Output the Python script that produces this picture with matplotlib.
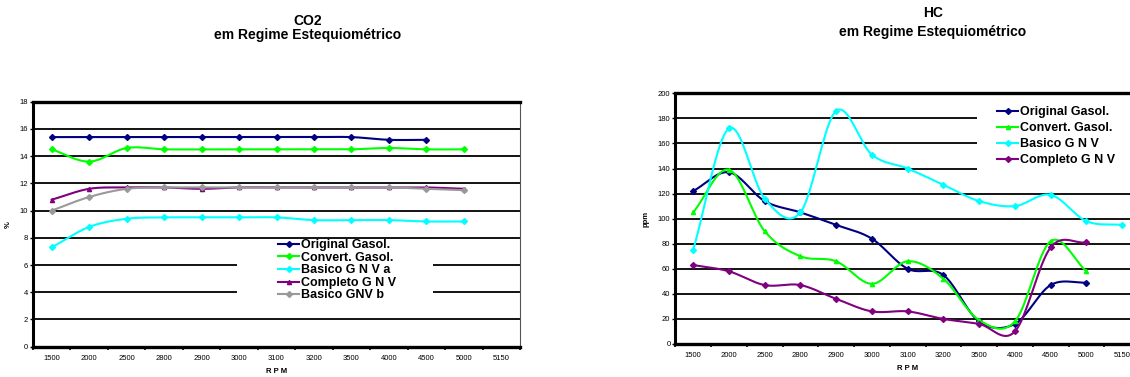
import numpy as np
import matplotlib
matplotlib.use("Agg")
import matplotlib.pyplot as plt
from matplotlib.patches import Rectangle

plt.rcParams['font.family'] = ['Liberation Sans', 'DejaVu Sans']

# Dados
rpm = ["1500", "2000", "2500", "2800", "2900", "3000", "3100", "3200",
       "3500", "4000", "4500", "5000", "5150"]

# CO2 (%)
co2_original = [15.4, 15.4, 15.4, 15.4, 15.4, 15.4, 15.4, 15.4, 15.4, 15.2, 15.2]
co2_convert = [14.5, 13.6, 14.6, 14.5, 14.5, 14.5, 14.5, 14.5, 14.5, 14.6, 14.5, 14.5]
co2_basico_a = [7.3, 8.8, 9.4, 9.5, 9.5, 9.5, 9.5, 9.3, 9.3, 9.3, 9.2, 9.2]
co2_completo = [10.8, 11.6, 11.7, 11.7, 11.6, 11.7, 11.7, 11.7, 11.7, 11.7, 11.7, 11.6]
co2_basico_b = [10.0, 11.0, 11.6, 11.7, 11.7, 11.7, 11.7, 11.7, 11.7, 11.7, 11.6, 11.5]

# HC (ppm)
hc_original = [122, 137, 114, 105, 95, 84, 60, 55, 18, 16, 47, 49]
hc_convert = [105, 139, 90, 70, 66, 48, 66, 52, 19, 18, 82, 58]
hc_basico = [75, 172, 116, 105, 186, 151, 140, 127, 114, 110, 119, 98, 95]
hc_completo = [63, 58, 47, 47, 36, 26, 26, 20, 16, 10, 77, 81]

NAVY = '#000080'
GREEN = '#00ff00'
CYAN = '#00ffff'
PURPLE = '#800080'
GRAY = '#999999'

N = 20


def smooth(y):
    # curva suavizada (tipo Excel / Catmull-Rom) passando pelos pontos
    y = np.asarray(y, dtype=float)
    x = np.arange(len(y), dtype=float)
    p = np.concatenate([[2 * y[0] - y[1]], y, [2 * y[-1] - y[-2]]])
    xs, ys = [], []
    t = np.linspace(0, 1, N, endpoint=False)
    for i in range(len(y) - 1):
        p0, p1, p2, p3 = p[i], p[i + 1], p[i + 2], p[i + 3]
        m1 = (p2 - p0) / 2
        m2 = (p3 - p1) / 2
        h00 = 2 * t**3 - 3 * t**2 + 1
        h10 = t**3 - 2 * t**2 + t
        h01 = -2 * t**3 + 3 * t**2
        h11 = t**3 - t**2
        ys.append(h00 * p1 + h10 * m1 + h01 * p2 + h11 * m2)
        xs.append(x[i] + t)
    xs.append([x[-1]])
    ys.append([y[-1]])
    return np.concatenate(xs), np.concatenate(ys)


def serie(ax, y, color, label, marker='D'):
    xs, ys = smooth(y)
    ax.plot(xs, ys, color=color, lw=1.5, label=label, marker=marker,
            markersize=3, markevery=slice(0, None, N), zorder=3)


def estilo(ax, ymax, ystep):
    ax.set_xlim(-0.5, len(rpm) - 0.5)
    ax.set_ylim(0, ymax)
    ax.set_xticks(np.arange(len(rpm)))
    ax.set_xticklabels(rpm)
    ax.set_xticks(np.arange(-0.5, len(rpm)), minor=True)
    ax.tick_params(axis='x', which='major', length=0, pad=6, labelsize=5.5)
    ax.tick_params(axis='x', which='minor', length=2.5, width=1.2, direction='out')
    ax.set_yticks(np.arange(0, ymax + 1, ystep))
    ax.tick_params(axis='y', length=2.5, width=1, pad=1, labelsize=5.5)
    ax.yaxis.grid(True, color='black', lw=1.3)
    ax.set_axisbelow(True)
    ax.spines['left'].set_linewidth(2.2)
    ax.spines['bottom'].set_linewidth(2.4)
    ax.spines['top'].set_linewidth(2.4)
    ax.spines['right'].set_linewidth(0.8)
    ax.spines['right'].set_color('#555555')


fig = plt.figure(figsize=(11.3, 3.77), dpi=100)
W, H = 1130, 377

# ---- CO2 ----
ax1 = fig.add_axes([33 / W, 1 - 346.7 / H, 487 / W, 245 / H])
estilo(ax1, 18, 2)
serie(ax1, co2_original, NAVY, 'Original Gasol.')
serie(ax1, co2_convert, GREEN, 'Convert. Gasol.')
serie(ax1, co2_basico_a, CYAN, 'Basico G N V a')
serie(ax1, co2_completo, PURPLE, 'Completo G N V', marker='^')
serie(ax1, co2_basico_b, GRAY, 'Basico GNV b')
ax1.add_patch(Rectangle((237 / W, 1 - 302 / H), 196 / W, 62 / H,
                        transform=fig.transFigure, facecolor='white',
                        edgecolor='none', zorder=1))
ax1.legend(loc='upper left', bbox_to_anchor=(278 / W, 1 - 239 / H),
           bbox_transform=fig.transFigure, frameon=False, borderpad=0,
           borderaxespad=0, handlelength=1.7, handletextpad=0.15,
           labelspacing=0.05, prop={'weight': 'bold', 'size': 9})
ax1.set_ylabel('%', fontsize=5.5, fontweight='bold', labelpad=6)
ax1.set_xlabel('R P M', fontsize=5.5, fontweight='bold', labelpad=4)
fig.text(308 / W, 1 - 20.7 / H, 'CO2', ha='center', va='center',
         fontsize=10, fontweight='bold')
fig.text(308 / W, 1 - 35 / H, 'em Regime Estequiométrico', ha='center',
         va='center', fontsize=10, fontweight='bold')

# ---- HC ----
ax2 = fig.add_axes([675.3 / W, 1 - 344 / H, 464.7 / W, 250.7 / H])
estilo(ax2, 200, 20)
serie(ax2, hc_original, NAVY, 'Original Gasol.')
serie(ax2, hc_convert, GREEN, 'Convert. Gasol.', marker='^')
serie(ax2, hc_basico, CYAN, 'Basico G N V')
serie(ax2, hc_completo, PURPLE, 'Completo G N V')
ax2.add_patch(Rectangle((977 / W, 1 - 170 / H), 170 / W, 77 / H,
                        transform=fig.transFigure, facecolor='white',
                        edgecolor='none', zorder=1))
ax2.legend(loc='upper left', bbox_to_anchor=(997 / W, 1 - 106 / H),
           bbox_transform=fig.transFigure, frameon=False, borderpad=0,
           borderaxespad=0, handlelength=1.7, handletextpad=0.15,
           labelspacing=0.33, prop={'weight': 'bold', 'size': 9})
ax2.set_ylabel('ppm', fontsize=5.5, fontweight='bold', labelpad=6)
ax2.set_xlabel('R P M', fontsize=5.5, fontweight='bold', labelpad=4)
fig.text(933 / W, 1 - 13.3 / H, 'HC', ha='center', va='center',
         fontsize=10, fontweight='bold')
fig.text(933 / W, 1 - 31.7 / H, 'em Regime Estequiométrico', ha='center',
         va='center', fontsize=10, fontweight='bold')

fig.savefig('out.png', dpi=100)
